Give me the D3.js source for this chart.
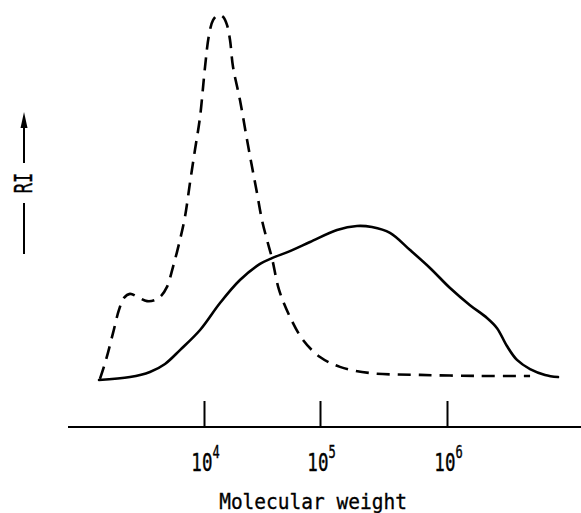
<!DOCTYPE html>
<html>
<head>
<meta charset="utf-8">
<script src="https://cdn.jsdelivr.net/npm/d3@7"></script>
<style>
  html, body { margin: 0; padding: 0; background: #fff; }
  svg { display: block; }
</style>
</head>
<body>
<svg id="chart" width="581" height="513"></svg>
<script>
// Solid trace: log10(molecular weight) and detector response (RI, peak of dashed trace = 100)
const solidLogM = [3.095, 3.362, 3.534, 3.664, 3.793, 3.966, 4.138, 4.310, 4.483, 4.586,
                   4.741, 4.914, 5.134, 5.291, 5.409, 5.551, 5.709, 5.866, 6.024, 6.181,
                   6.315, 6.394, 6.472, 6.551, 6.654, 6.772, 6.874];
const solidRI   = [0.0, 0.8, 2.2, 4.4, 8.2, 13.7, 21.1, 27.4, 31.8, 33.4,
                   35.3, 37.8, 41.1, 42.2, 41.9, 40.3, 35.6, 30.7, 25.2, 20.5,
                   17.0, 14.2, 9.3, 5.5, 3.0, 1.4, 0.8];

// Dashed trace
const dashedLogM = [3.103, 3.155, 3.216, 3.267, 3.310, 3.362, 3.431, 3.509, 3.578, 3.629,
                    3.681, 3.733, 3.793, 3.836, 3.879, 3.922, 3.966, 4.009, 4.043, 4.078,
                    4.121, 4.164, 4.198, 4.224, 4.250, 4.310, 4.371, 4.414, 4.457, 4.500,
                    4.543, 4.586, 4.647, 4.741, 4.853, 5.000, 5.157, 5.394, 5.787, 6.260, 6.654];
const dashedRI   = [0.3, 5.5, 12.9, 19.2, 22.5, 23.6, 22.7, 21.6, 21.9, 23.0,
                    25.5, 31.0, 38.4, 44.7, 54.0, 63.0, 72.1, 85.8, 94.5, 98.6,
                    100.0, 99.5, 97.3, 93.2, 85.8, 76.7, 65.8, 58.4, 51.2, 43.8,
                    38.4, 33.4, 24.7, 17.3, 11.0, 6.3, 3.6, 1.9, 1.4, 1.1, 1.1];

// Axis ticks (powers of ten) and text
const tickExponents = [4, 5, 6];
const tickBase = "10";
const xTitle = "Molecular weight";
const yTitle = "RI";

const W = 581, H = 513;
const FONT = "'DejaVu Sans Mono', monospace";
const svg = d3.select("#chart");
svg.append("rect").attr("width", W).attr("height", H).attr("fill", "#fff");

// Column calibration: decades are not evenly spaced, so use a piecewise scale
const x = d3.scaleLinear().domain([4, 5, 6]).range([204, 320, 447]);
const y = d3.scaleLinear().domain([0, 100]).range([380, 15]);

const axisY = 427;

// Baseline of the molecular-weight axis
svg.append("line")
  .attr("x1", 68).attr("x2", W)
  .attr("y1", axisY).attr("y2", axisY)
  .attr("stroke", "#000").attr("stroke-width", 2);

// Upward tick marks
const xAxis = d3.axisBottom(x)
  .tickValues(tickExponents)
  .tickSize(-26)
  .tickSizeOuter(0)
  .tickFormat(() => "");
const gx = svg.append("g").attr("transform", `translate(0,${axisY})`).call(xAxis);
gx.select(".domain").remove();
gx.selectAll(".tick line").attr("stroke", "#000").attr("stroke-width", 2);

// Tick labels 10^n (tall, narrow lettering)
gx.selectAll(".tick").each(function (d) {
  const t = d3.select(this).append("text")
    .attr("transform", "translate(1,44) scale(1,1.4)")
    .attr("text-anchor", "middle")
    .attr("fill", "#000")
    .attr("stroke", "#000")
    .attr("stroke-width", 0.3)
    .attr("font-family", FONT)
    .attr("font-size", 17.5);
  t.append("tspan").text(tickBase);
  t.append("tspan").attr("font-size", 12).attr("dy", -9).text(String(d));
});

// Axis title
svg.append("text")
  .attr("transform", "translate(313,509) scale(1,1.1)")
  .attr("text-anchor", "middle")
  .attr("font-family", FONT)
  .attr("font-size", 19.5)
  .attr("fill", "#000")
  .attr("stroke", "#000")
  .attr("stroke-width", 0.3)
  .text(xTitle);

// Vertical RI label with arrow
const ri = svg.append("g");
ri.append("line").attr("x1", 24).attr("x2", 24).attr("y1", 254).attr("y2", 203)
  .attr("stroke", "#000").attr("stroke-width", 2);
ri.append("line").attr("x1", 24).attr("x2", 24).attr("y1", 163).attr("y2", 124)
  .attr("stroke", "#000").attr("stroke-width", 2);
ri.append("path").attr("d", "M24,112 L20.5,128 L27.5,128 Z").attr("fill", "#000");
ri.append("text")
  .attr("transform", "translate(32,183) rotate(-90) scale(1,1.5)")
  .attr("text-anchor", "middle")
  .attr("font-family", FONT)
  .attr("font-size", 17)
  .attr("fill", "#000")
  .attr("stroke", "#000")
  .attr("stroke-width", 0.3)
  .text(yTitle);

// Traces
const line = d3.line()
  .x(d => x(d[0]))
  .y(d => y(d[1]))
  .curve(d3.curveCatmullRom.alpha(0.5));

svg.append("path")
  .datum(d3.zip(solidLogM, solidRI))
  .attr("d", line)
  .attr("fill", "none")
  .attr("stroke", "#000")
  .attr("stroke-width", 2.6)
  .attr("stroke-linecap", "round");

svg.append("path")
  .datum(d3.zip(dashedLogM, dashedRI))
  .attr("d", line)
  .attr("fill", "none")
  .attr("stroke", "#000")
  .attr("stroke-width", 2.6)
  .attr("stroke-dasharray", "13,8");
</script>
</body>
</html>
